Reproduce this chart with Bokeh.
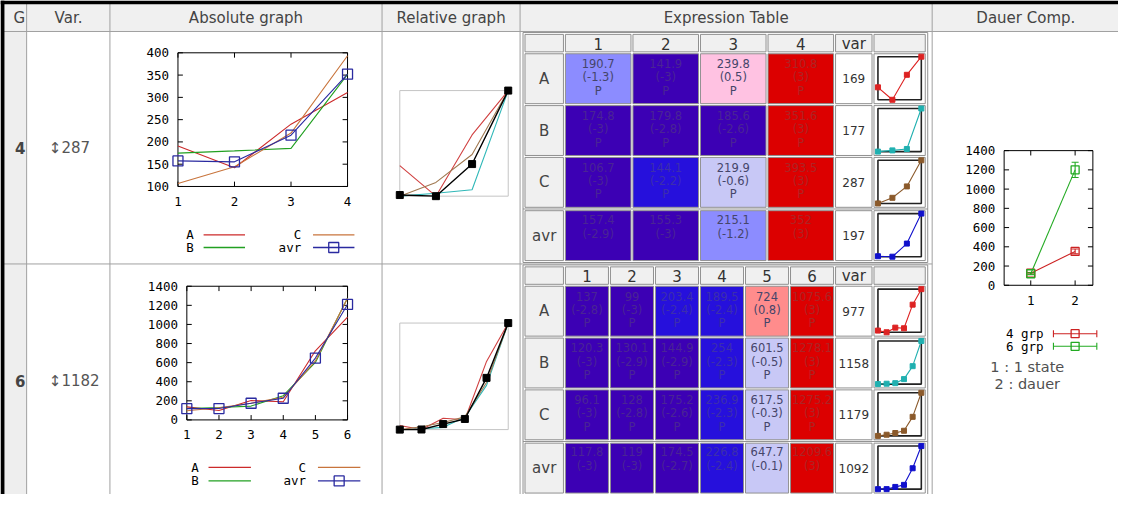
import numpy as np
from bokeh.plotting import figure
from bokeh.models import Range1d
from bokeh.core.properties import value
from bokeh.embed import file_html
from bokeh.resources import INLINE

# ---------------- data ----------------
header_labels = ["G", "Var.", "Absolute graph", "Relative graph", "Expression Table", "Dauer Comp."]
group_ids = ["4", "6"]
group_var = ["\u2195287", "\u21951182"]
row_names = ["A", "B", "C", "avr"]

g4_cols = ["1", "2", "3", "4"]
g4_A = [190.7, 141.9, 239.8, 310.8]
g4_A_z = [-1.3, -3, 0.5, 3]
g4_B = [174.8, 179.8, 185.6, 351.6]
g4_B_z = [-3, -2.8, -2.6, 3]
g4_C = [106.7, 144.1, 219.9, 393.5]
g4_C_z = [-3, -2.2, -0.6, 3]
g4_avr = [157.4, 155.3, 215.1, 352]
g4_avr_z = [-2.9, -3, -1.2, 3]
g4_var = [169, 177, 287, 197]
g4_yticks = [100, 150, 200, 250, 300, 350, 400]

g6_cols = ["1", "2", "3", "4", "5", "6"]
g6_A = [137, 99, 203.4, 189.5, 724, 1075.6]
g6_A_z = [-2.8, -3, -2.4, -2.4, 0.8, 3]
g6_B = [120.3, 130.1, 144.9, 254, 601.5, 1278.1]
g6_B_z = [-3, -2.9, -2.9, -2.3, -0.5, 3]
g6_C = [96.1, 128, 175.2, 236.9, 617.5, 1275.2]
g6_C_z = [-3, -2.8, -2.6, -2.3, -0.3, 3]
g6_avr = [117.8, 119, 174.5, 226.8, 647.7, 1209.6]
g6_avr_z = [-3, -3, -2.7, -2.4, -0.1, 3]
g6_var = [977, 1158, 1179, 1092]
g6_yticks = [0, 200, 400, 600, 800, 1000, 1200, 1400]

call_flag = "P"

dauer_x = [1, 2]
dauer_series = ["4 grp", "6 grp"]
grp4_mean = [125, 352]
grp4_err = [8, 25]
grp6_mean = [120, 1200]
grp6_err = [10, 80]
dauer_yticks = [0, 200, 400, 600, 800, 1000, 1200, 1400]
dauer_notes = ["1 : 1 state", "2 : dauer"]

# ---------------- styles ----------------
SANS = value("DejaVu Sans")
MONO = value("DejaVu Sans Mono")
W, H = 1134, 510
GRID = "#a0a0a0"
CELL_LINE = "#909090"
ABS_COLORS = ["#cc2a2a", "#22a022", "#c8743c", "#2a2aa0"]
REL_COLORS = ["#d04040", "#30b8b8", "#a07850", "#000000"]
SPARK_COLORS = ["#dd2222", "#20b0b0", "#8b5a2b", "#1010cc"]

p = figure(width=1118, height=494, x_range=Range1d(0, W), y_range=Range1d(H, 0),
           toolbar_location=None, output_backend="svg",
           x_axis_location=None, y_axis_location=None, min_border=0,
           outline_line_color=None, background_fill_color="white",
           border_fill_color="white")
p.grid.visible = False


def xr(name, d0, d1, p0, p1):
    k = (d1 - d0) / (p1 - p0)
    p.extra_x_ranges = {**p.extra_x_ranges, name: Range1d(d0 + (0 - p0) * k, d0 + (W - p0) * k)}


def yr(name, d0, d1, p0, p1):
    k = (d1 - d0) / (p1 - p0)
    p.extra_y_ranges = {**p.extra_y_ranges, name: Range1d(d0 + (H - p0) * k, d0 + (0 - p0) * k)}


def txt(x, y, s, size, color="#444444", font=SANS, align="center", baseline="middle",
        style="normal", xn="default", yn="default"):
    p.text(x=x, y=y, text=s, text_font=font, text_font_size=size, text_color=color,
           text_align=align, text_baseline=baseline, text_font_style=style,
           x_range_name=xn, y_range_name=yn)


def hex2rgb(c):
    c = c.lstrip("#")
    return [int(c[i:i + 2], 16) for i in (0, 2, 4)]


def blend(c1, c2, t):
    a, b = hex2rgb(c1), hex2rgb(c2)
    return "#%02x%02x%02x" % tuple(int(round(a[i] * (1 - t) + b[i] * t)) for i in range(3))


def zcolor(z):
    if z <= -2.5:
        return "#3c00b4"
    if z <= -2.0:
        return "#2610dc"
    if z <= -1.0:
        return "#8c8cff"
    if z < 0:
        return "#c8c8f6"
    if z < 0.7:
        return "#ffc2e2"
    if z < 2.0:
        return "#ff8c8c"
    return "#dc0000"


def fmt(v):
    return ("%g" % v)

# ---------------- page grid ----------------
p.quad(left=[3.5], right=[W], top=[3.5], bottom=[32], fill_color="#f0f0f0", line_color=None)
p.quad(left=[3.5], right=[26.5], top=[32], bottom=[H], fill_color="#eeeeee", line_color=None)
vx = [26.5, 111, 387, 527, 945]
p.segment(x0=vx, y0=[3.5] * len(vx), x1=vx, y1=[H] * len(vx), line_color=GRID, line_width=1)
p.segment(x0=[3.5, 3.5], y0=[32, 272], x1=[W, 945], y1=[32, 272], line_color=GRID, line_width=1)
p.quad(left=[0, 0], right=[4, W], top=[0, 0], bottom=[H, 4], fill_color="black", line_color=None)

hdr_x = [19, 69, 249, 457, 736, 1040]
txt(hdr_x, [18] * 6, header_labels, "15px", color="#444444")

row_cy = [152, 393]
txt([20, 20], row_cy, group_ids, "15px", color="#444444", style="bold")
txt([49, 49], row_cy, group_var, "15px", color="#555555", align="left")

groups = [
    dict(cols=g4_cols, vals=[g4_A, g4_B, g4_C, g4_avr], zs=[g4_A_z, g4_B_z, g4_C_z, g4_avr_z],
         var=g4_var, yticks=g4_yticks,
         ab=(180, 352, 192, 54), leg=(242, 255, 196, 305, 206, 248, 317, 359),
         rel=(93, 202), tbl_top=35),
    dict(cols=g6_cols, vals=[g6_A, g6_B, g6_C, g6_avr], zs=[g6_A_z, g6_B_z, g6_C_z, g6_avr_z],
         var=g6_var, yticks=g6_yticks,
         ab=(189, 352, 433, 295), leg=(482, 496, 201, 310, 211, 254, 322, 365),
         rel=(333, 443), tbl_top=275),
]

for gi, g in enumerate(groups):
    xs = [int(c) for c in g["cols"]]
    n = len(xs)
    # ---------- absolute graph ----------
    x0p, x1p, y0p, y1p = g["ab"]
    ymin, ymax = g["yticks"][0], g["yticks"][-1]
    xn, yn = "absx%d" % gi, "absy%d" % gi
    xr(xn, xs[0], xs[-1], x0p, x1p)
    yr(yn, ymin, ymax, y0p, y1p)
    p.quad(left=[xs[0]], right=[xs[-1]], bottom=[ymin], top=[ymax], fill_color=None,
           line_color="black", line_width=1, x_range_name=xn, y_range_name=yn)
    # ticks (inward, mirrored)
    p.segment(x0=xs, y0=[y0p] * n, x1=xs, y1=[y0p - 5] * n, line_color="black", x_range_name=xn)
    p.segment(x0=xs, y0=[y1p] * n, x1=xs, y1=[y1p + 5] * n, line_color="black", x_range_name=xn)
    yt = g["yticks"]
    m = len(yt)
    p.segment(x0=[x0p] * m, y0=yt, x1=[x0p + 5] * m, y1=yt, line_color="black", y_range_name=yn)
    p.segment(x0=[x1p] * m, y0=yt, x1=[x1p - 5] * m, y1=yt, line_color="black", y_range_name=yn)
    txt([x0p - 9] * m, yt, [str(v) for v in yt], "12.5px", color="black", font=MONO,
        align="right", yn=yn)
    txt(xs, [y0p + 15] * n, g["cols"], "12.5px", color="black", font=MONO, xn=xn)
    for si, vals in enumerate(g["vals"]):
        p.line(xs, vals, line_color=ABS_COLORS[si], line_width=1.1, x_range_name=xn, y_range_name=yn)
    p.scatter(xs, g["vals"][3], marker="square", size=10, fill_color=None,
              line_color=ABS_COLORS[3], line_width=1.3, x_range_name=xn, y_range_name=yn)
    # legend
    ly1, ly2, lax, lcx, la0, la1, lc0, lc1 = g["leg"]
    txt([lax, lax, lcx, lcx], [ly1, ly2, ly1, ly2], row_names, "12.5px", color="black",
        font=MONO, align="right")
    for (sx0, sx1, sy, sc) in [(la0, la1, ly1, ABS_COLORS[0]), (la0, la1, ly2, ABS_COLORS[1]),
                               (lc0, lc1, ly1, ABS_COLORS[2]), (lc0, lc1, ly2, ABS_COLORS[3])]:
        p.segment(x0=[sx0], y0=[sy], x1=[sx1], y1=[sy], line_color=sc, line_width=1.3)
    p.scatter([(lc0 + lc1) / 2], [ly2], marker="square", size=10, fill_color=None,
              line_color=ABS_COLORS[3], line_width=1.3)

    # ---------- relative graph ----------
    rt, rb = g["rel"]
    rxn, ryn = "relx%d" % gi, "rely%d" % gi
    xr(rxn, xs[0], xs[-1], 405, 515)
    yr(ryn, 0, 1, rb, rt)
    p.quad(left=[xs[0]], right=[xs[-1]], bottom=[0], top=[1], fill_color=None,
           line_color="#c4c4c4", line_width=1, x_range_name=rxn, y_range_name=ryn)
    for si, vals in enumerate(g["vals"]):
        a = np.array(vals, dtype=float)
        nv = (a - a.min()) / (a.max() - a.min())
        p.line(xs, list(nv), line_color=REL_COLORS[si], line_width=1.1 if si < 3 else 1.4,
               x_range_name=rxn, y_range_name=ryn)
        if si == 3:
            p.scatter(xs, list(nv), marker="square", size=7, fill_color="black", line_color="black",
                      x_range_name=rxn, y_range_name=ryn)

    # ---------- expression table ----------
    ht = g["tbl_top"]
    hb = ht + 18
    row_tops = [hb + 2, hb + 2 + 53.5, hb + 2 + 107]
    row_tops.append(row_tops[2] + 51.5 + 3.5)
    row_bots = [t + 51.5 for t in row_tops]
    cw = (845 - 573 - (n - 1) * 2) / n
    col_l = [573 + i * (cw + 2) for i in range(n)]
    col_r = [l + cw for l in col_l]
    p.quad(left=[530], right=[940.5], top=[ht - 2], bottom=[row_bots[-1] + 2], fill_color=None,
           line_color=CELL_LINE, line_width=1)
    p.segment(x0=[530], y0=[row_bots[2] + 1.75], x1=[940.5], y1=[row_bots[2] + 1.75],
              line_color=CELL_LINE, line_width=1)
    lefts = [532] + col_l + [847, 886]
    rights = [571] + col_r + [884, 938]
    p.quad(left=lefts, right=rights, top=[ht] * len(lefts), bottom=[hb] * len(lefts),
           fill_color="#f0f0f0", line_color=CELL_LINE, line_width=1)
    ccx = [(l + r) / 2 for l, r in zip(col_l, col_r)]
    txt(ccx + [865.5], [ht + 9.5] * (n + 1), g["cols"] + ["var"], "15px", color="#333333")
    # row headers
    p.quad(left=[532] * 4, right=[571] * 4, top=row_tops, bottom=row_bots,
           fill_color="#f0f0f0", line_color=CELL_LINE, line_width=1)
    rcy = [(t + b) / 2 for t, b in zip(row_tops, row_bots)]
    txt([551.5] * 4, rcy, row_names, "15px", color="#444444")
    # var + spark cells
    p.quad(left=[847] * 4 + [886] * 4, right=[884] * 4 + [938] * 4, top=row_tops * 2,
           bottom=row_bots * 2, fill_color="white", line_color=CELL_LINE, line_width=1)
    txt([865.5] * 4, rcy, [str(v) for v in g["var"]], "12px", color="#333333")
    # data cells
    cl, cr, ct, cb, fc = [], [], [], [], []
    tx, ty, ts, tc = [], [], [], []
    for ri in range(4):
        for ci in range(n):
            z = g["zs"][ri][ci]
            v = g["vals"][ri][ci]
            bg = zcolor(z)
            cl.append(col_l[ci]); cr.append(col_r[ci])
            ct.append(row_tops[ri]); cb.append(row_bots[ri]); fc.append(bg)
            dark = z <= -2.0 or z >= 2.0
            col = blend(bg, "#606060", 0.38) if dark else "#45456a"
            lines = [fmt(v), "(" + fmt(z) + ")"]
            offs = [-15.5, -1.5]
            if ri < 3:
                lines.append(call_flag)
                offs.append(12.5)
            else:
                offs = [-17, -2]
            for s, o in zip(lines, offs):
                tx.append(ccx[ci]); ty.append(rcy[ri] + o); ts.append(s); tc.append(col)
    p.quad(left=cl, right=cr, top=ct, bottom=cb, fill_color=fc, line_color=CELL_LINE, line_width=1)
    txt(tx, ty, ts, "11.5px", color=tc)
    # sparklines
    sxn = "spx%d" % gi
    xr(sxn, xs[0], xs[-1], 890, 934)
    for ri in range(4):
        syn = "spy%d_%d" % (gi, ri)
        yr(syn, 0, 1, row_bots[ri] - 4, row_tops[ri] + 3)
        a = np.array(g["vals"][ri], dtype=float)
        nv = list((a - a.min()) / (a.max() - a.min()))
        p.quad(left=[xs[0]], right=[xs[-1]], bottom=[0], top=[1], fill_color=None,
               line_color="#222222", line_width=1.6, x_range_name=sxn, y_range_name=syn)
        p.line(xs, nv, line_color=SPARK_COLORS[ri], line_width=1.1, x_range_name=sxn, y_range_name=syn)
        p.scatter(xs, nv, marker="square", size=5, fill_color=SPARK_COLORS[ri],
                  line_color=SPARK_COLORS[ri], x_range_name=sxn, y_range_name=syn)

# ---------------- dauer comparison ----------------
dxn, dyn = "dx", "dy"
xr(dxn, 1, 2, 1045, 1090)
yr(dyn, 0, 1400, 294, 155)
fx0, fx1 = 0.4, 2.4
p.quad(left=[fx0], right=[fx1], bottom=[0], top=[1400], fill_color=None, line_color="black",
       line_width=1, x_range_name=dxn, y_range_name=dyn)
nt = len(dauer_yticks)
p.segment(x0=[1018] * nt, y0=dauer_yticks, x1=[1023] * nt, y1=dauer_yticks, line_color="black", y_range_name=dyn)
p.segment(x0=[1108] * nt, y0=dauer_yticks, x1=[1103] * nt, y1=dauer_yticks, line_color="black", y_range_name=dyn)
p.segment(x0=dauer_x, y0=[294, 294], x1=dauer_x, y1=[289, 289], line_color="black", x_range_name=dxn)
p.segment(x0=dauer_x, y0=[155, 155], x1=dauer_x, y1=[160, 160], line_color="black", x_range_name=dxn)
txt([1009] * nt, dauer_yticks, [str(v) for v in dauer_yticks], "12.5px", color="black", font=MONO,
    align="right", yn=dyn)
txt(dauer_x, [310, 310], [str(v) for v in dauer_x], "12.5px", color="black", font=MONO, xn=dxn)
for mean, err, colr in [(grp4_mean, grp4_err, "#cc2222"), (grp6_mean, grp6_err, "#22aa22")]:
    lo = [m - e for m, e in zip(mean, err)]
    hi = [m + e for m, e in zip(mean, err)]
    p.line(dauer_x, mean, line_color=colr, line_width=1.1, x_range_name=dxn, y_range_name=dyn)
    p.segment(x0=dauer_x, y0=lo, x1=dauer_x, y1=hi, line_color=colr, line_width=1.1,
              x_range_name=dxn, y_range_name=dyn)
    p.scatter(dauer_x * 2, lo + hi, marker="dash", size=7, line_color=colr, line_width=1.1,
              x_range_name=dxn, y_range_name=dyn)
    p.scatter(dauer_x, mean, marker="square", size=8, fill_color=None, line_color=colr,
              line_width=1.3, x_range_name=dxn, y_range_name=dyn)
# legend
leg_y = [344, 357]
txt([1058, 1058], leg_y, dauer_series, "12.5px", color="black", font=MONO, align="right")
for ly, colr in zip(leg_y, ["#cc2222", "#22aa22"]):
    p.segment(x0=[1068], y0=[ly], x1=[1112], y1=[ly], line_color=colr, line_width=1.1)
    p.scatter([1068, 1112], [ly, ly], marker="dash", angle=np.pi / 2, size=7, line_color=colr, line_width=1.1)
    p.scatter([1090], [ly], marker="square", size=8, fill_color=None, line_color=colr, line_width=1.3)
txt([1041.5, 1041.5], [378, 396], dauer_notes, "14.5px", color="#505050")

open("out.html", "w").write(file_html(p, INLINE))
